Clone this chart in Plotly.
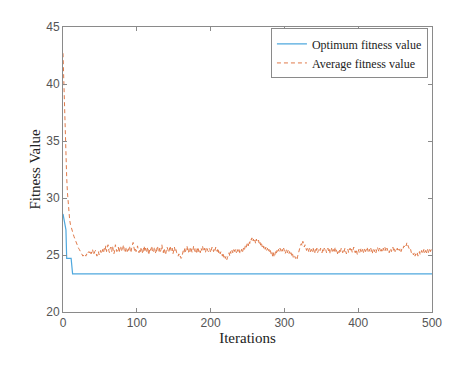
import plotly.graph_objects as go

# Optimum fitness value: breakpoints (iteration, value)
opt_iter = [0, 2, 4, 5, 11, 13, 500]
opt_val = [28.6, 28.0, 27.2, 24.7, 24.7, 23.35, 23.35]

# Average fitness value per iteration (0..500)
avg_val = [
    42.7, 40.0, 37.5, 35.0, 33.3, 31.8, 30.5, 29.4, 28.6, 28.1,
    27.7, 27.4, 27.1, 26.9, 26.8, 26.6, 26.4, 26.2, 26.0, 25.9,
    25.8, 25.6, 25.5, 25.4, 25.3, 25.1, 25.0, 24.9, 25.0, 24.9,
    25.0, 24.9, 25.1, 25.0, 25.2,
    25.3, 25.2, 25.4, 25.1, 25.3, 25.5, 25.2, 25.0, 25.3, 25.4,
    25.1, 24.9, 25.2, 25.3, 25.0, 25.2, 25.4, 25.1, 25.3, 25.5,
    25.2, 25.6, 25.4, 25.8, 25.3, 25.5, 25.9, 25.4, 25.2, 25.6,
    25.7, 25.3, 25.8, 25.5, 25.1, 25.4, 25.9, 25.6, 25.3, 25.5,
    25.7, 25.2, 25.4, 25.8, 25.5, 25.3, 25.6, 25.9, 25.4, 25.2,
    25.5, 25.7, 25.3, 25.6, 25.4, 25.8, 25.5, 25.2, 25.6, 25.9,
    26.1, 25.7, 25.4, 25.6, 25.3, 25.5, 25.8, 25.4, 25.2, 25.5,
    25.3, 25.7, 25.4, 25.1, 25.5, 25.8, 25.3, 25.6, 25.2, 25.4,
    25.7, 25.0, 25.3, 25.6, 25.4, 25.8, 25.5, 25.2, 25.4, 25.7,
    25.3, 25.1, 25.5, 25.8, 25.4, 25.2, 25.6, 25.3, 25.5, 25.9,
    25.4, 25.2, 25.6, 25.3, 25.0, 25.4, 25.7, 25.5, 25.2, 25.4,
    25.8, 25.5, 25.3, 25.6, 25.1, 25.4, 25.7, 25.3, 25.5, 25.2,
    25.0, 24.9, 25.1, 24.8, 24.9, 24.7, 24.8, 25.1, 25.4, 25.2,
    25.6, 25.3, 25.5, 25.8, 25.4, 25.2, 25.6, 25.3, 25.7, 25.5,
    25.2, 25.4, 25.8, 25.5, 25.3, 25.6, 25.1, 25.4, 25.7, 25.3,
    25.5, 25.2, 25.6, 25.4, 25.8, 25.5, 25.3, 25.6, 25.2, 25.5,
    25.7, 25.4, 25.3, 25.6, 25.5, 25.2, 25.4, 25.7, 25.5, 25.3,
    25.6, 25.4, 25.7, 25.5, 25.3, 25.6, 25.2, 25.4, 25.1, 25.3,
    25.0, 24.9, 25.2, 24.8, 25.0, 24.7, 24.9, 24.6, 24.8, 25.0,
    25.2, 24.9, 25.3, 25.1, 25.4, 25.2, 25.5, 25.3, 25.6, 25.4,
    25.2, 25.5, 25.3, 25.6, 25.4, 25.1, 25.3, 25.5, 25.2, 25.4,
    25.7, 25.5, 25.8, 25.6, 25.9, 26.1, 25.8, 26.2, 26.0, 26.4,
    26.3, 26.5, 26.2, 26.4, 26.1, 26.3, 26.0, 26.4, 26.2, 26.1,
    26.3, 25.9, 26.1, 25.8, 26.0, 25.7, 25.9, 25.6, 25.8, 25.5,
    25.7, 25.4, 25.6, 25.3, 25.5, 25.2, 25.4, 25.1, 25.3, 24.9,
    25.2, 24.8, 25.0, 25.3, 25.1, 25.4, 25.2, 25.5, 25.3, 25.6,
    25.4, 25.2, 25.5, 25.3, 25.6, 25.4, 25.1, 25.3, 25.5, 25.2,
    25.4, 25.1, 25.3, 25.0, 25.2, 24.9, 25.1, 24.8, 25.0, 24.9,
    24.7, 24.8, 24.6, 24.9, 25.2, 25.5, 25.7, 25.9, 26.0, 25.8,
    26.2, 26.0, 25.7, 25.9, 25.6, 25.4, 25.7, 25.5, 25.3, 25.6,
    25.4, 25.2, 25.5, 25.3, 25.6, 25.4, 25.1, 25.5, 25.3, 25.6,
    25.2, 25.4, 25.5, 25.3, 25.6, 25.4, 25.2, 25.5, 25.3, 25.6,
    25.4, 25.5, 25.2, 25.4, 25.6, 25.3, 25.5, 25.1, 25.4, 25.6,
    25.3, 25.5, 25.2, 25.4, 25.7, 25.3, 25.5, 25.1, 25.4, 25.2,
    25.5, 25.3, 25.6, 25.4, 25.2, 25.5, 25.3, 25.6, 25.4, 25.1,
    25.3, 25.5, 25.2, 25.4, 25.6, 25.3, 25.5, 25.2, 25.4, 25.7,
    25.4, 25.2, 25.5, 25.3, 25.0, 25.3, 25.5, 25.2, 25.4, 25.6,
    25.3, 25.5, 25.2, 25.4, 25.6, 25.3, 25.5, 25.7, 25.4, 25.2,
    25.5, 25.3, 25.6, 25.4, 25.1, 25.4, 25.6, 25.3, 25.5, 25.2,
    25.4, 25.7, 25.5, 25.3, 25.6, 25.4, 25.2, 25.5, 25.3, 25.6,
    25.4, 25.7, 25.5, 25.3, 25.6, 25.4, 25.5, 25.2, 25.4, 25.6,
    25.3, 25.5, 25.7, 25.4, 25.6, 25.3, 25.5, 25.4, 25.6, 25.3,
    25.5, 25.4, 25.6, 25.3, 25.5, 25.7, 25.6, 25.8, 25.7, 25.9,
    25.8, 26.1, 25.9, 25.7, 25.6, 25.4, 25.5, 25.2, 25.3, 25.1,
    25.0, 25.2, 24.9, 25.1, 25.0, 25.2, 24.9, 25.1, 25.3, 25.0,
    25.2, 25.4, 25.1, 25.3, 25.5, 25.2, 25.4, 25.1, 25.3, 25.5,
    25.2, 25.4, 25.6, 25.3, 25.5, 25.3,
]
avg_iter = list(range(len(avg_val)))

x_ticks = [0, 100, 200, 300, 400, 500]
y_ticks = [20, 25, 30, 35, 40, 45]

fig = go.Figure()

fig.add_trace(go.Scatter(
    x=opt_iter, y=opt_val, mode='lines',
    name='Optimum fitness value',
    line=dict(color='#4fa8de', width=1.2),
))
fig.add_trace(go.Scatter(
    x=avg_iter, y=avg_val, mode='lines',
    name='Average fitness value',
    line=dict(color='#e07a4a', width=1, dash='4px,3px'),
))

axis_common = dict(
    showline=True, linecolor='#8a8a8a', linewidth=1, mirror='ticks',
    ticks='inside', ticklen=4, tickcolor='#8a8a8a',
    showgrid=False, zeroline=False,
    tickfont=dict(family='Liberation Sans, Arial', size=12, color='#555555'),
)

# page has an 8px body margin, so the figure is drawn a little smaller
fig.update_layout(
    width=465, height=358,
    margin=dict(l=55, r=41, t=13, b=54),
    paper_bgcolor='white', plot_bgcolor='white',
    xaxis=dict(range=[0, 500], tickvals=x_ticks,
               title=dict(text='Iterations', standoff=2,
                          font=dict(family='Liberation Serif, Times New Roman', size=15, color='#222222')),
               **axis_common),
    yaxis=dict(range=[20, 45], tickvals=y_ticks,
               title=dict(text='Fitness Value', standoff=1,
                          font=dict(family='Liberation Serif, Times New Roman', size=15, color='#222222')),
               **axis_common),
    legend=dict(
        x=0.989, y=0.995, xanchor='right', yanchor='top',
        bgcolor='white', bordercolor='#8a8a8a', borderwidth=1,
        font=dict(family='Liberation Serif, Times New Roman', size=12, color='#222222'),
        tracegroupgap=0, itemwidth=30,
    ),
)

fig.write_html("out.html")
